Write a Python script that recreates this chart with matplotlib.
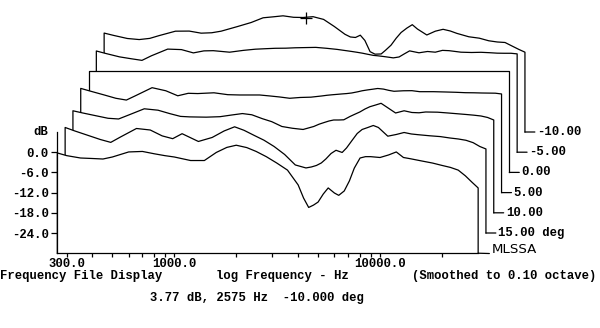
import matplotlib
matplotlib.use("Agg")
import matplotlib.pyplot as plt
import matplotlib.transforms as mtransforms

# ---------------- data ----------------
freq_hz = [270, 300, 350, 400, 450, 500, 600, 700, 800, 900,
           1000, 1200, 1400, 1600, 1800, 2000, 2250, 2500, 2800, 3150,
           3550, 4000, 4250, 4500, 4750, 5000, 5300, 5600, 6000, 6300,
           6700, 7100, 7500, 8000, 8500, 9000, 10000, 11000, 12000, 13000,
           14000, 16000, 18000, 20000, 22000, 24000, 26000, 28000, 30000]

resp_front = [-0.2, -1.0, -1.7, -1.85, -2.0, -1.4, 0.1, 0.25, -0.45, -1.0,
              -1.4, -2.45, -2.45, -0.05, 1.45, 2.1, 1.4, 0.25, -1.3, -3.2,
              -5.3, -9.7, -13.6, -16.4, -15.7, -14.8, -12.4, -10.6, -12.1, -12.8,
              -11.5, -8.5, -4.7, -1.7, -1.3, -1.3, -1.55, -0.8, 0.1, -1.55,
              -1.9, -2.6, -3.2, -3.9, -4.5, -5.3, -7.0, -8.9, -10.6]
resp_15 = [1.37, 0.36, -1.01, -2.20, -3.06, -1.51, 1.07, 0.62, -1.13, -1.96,
           -0.48, -2.79, -1.60, 0.33, 1.57, 0.53, -1.04, -2.41, -4.28, -6.65,
           -9.77, -10.66, -10.37, -9.92, -9.18, -7.99, -6.36, -5.41, -6.06, -4.72,
           -2.49, -0.42, 0.77, 1.37, 1.96, 1.37, -1.22, -0.71, -0.12, -0.56,
           -0.77, -1.10, -1.34, -1.75, -2.05, -2.44, -3.15, -4.28, -5.02]
resp_10 = [0.33, -0.30, -1.16, -1.90, -2.11, -1.01, 0.92, 0.50, -0.53, -1.34,
           -1.49, -1.57, -1.43, -0.92, -0.50, -0.86, -2.02, -2.91, -4.34, -4.87,
           -5.23, -4.34, -3.65, -3.15, -2.70, -2.41, -2.41, -2.35, -1.37, -0.77,
           -0.03, 0.86, 1.54, 2.05, 2.55, 1.54, -0.33, 0.33, -0.18, -0.27,
           -0.03, -0.09, -0.33, -0.56, -0.77, -0.98, -1.22, -1.66, -2.41]
resp_5 = [0.98, 0.18, -0.95, -1.96, -2.49, -1.16, 1.19, 0.27, -1.22, -0.48,
          -0.56, -0.33, -0.89, -0.98, -0.98, -0.98, -1.28, -1.57, -1.96, -1.72,
          -1.63, -1.28, -1.07, -0.92, -0.80, -0.68, -0.56, -0.39, -0.03, 0.27,
          0.53, 0.74, 0.95, 0.77, 0.39, 0.12, 0.27, 0.30, 0.0, 0.0,
          0.0, -0.09, -0.18, -0.30, -0.33, -0.39, -0.42, -0.45, -0.68]
resp_0 = [0.0] * 49
resp_m5 = [0.09, -0.65, -1.66, -2.23, -2.70, -1.34, 0.65, 0.50, -0.48, 0.12,
           0.18, -0.27, 0.27, 0.62, 0.77, 0.89, 0.92, 1.04, 1.10, 1.16,
           0.89, 0.56, 0.33, 0.12, -0.09, -0.30, -0.56, -0.86, -1.22, -1.34,
           -1.54, -1.75, -1.96, -1.69, -0.74, 0.12, -0.45, -0.06, -0.27, 0.27,
           0.18, -0.27, -0.36, -0.30, -0.42, -0.56, -0.59, -0.59, -0.77]
resp_m10 = [-0.59, -1.28, -2.20, -2.52, -2.17, -1.34, -0.03, 0.0, -0.62, -0.50,
            -0.03, 1.34, 2.55, 3.95, 4.25, 4.54, 4.10, 4.04, 4.28, 3.47,
            1.37, -0.95, -1.75, -1.90, -1.22, -2.79, -6.12, -6.86, -6.80, -5.70,
            -4.19, -2.11, -0.42, 0.89, 1.90, 0.62, -1.16, -0.03, 0.53, 0.03,
            -0.68, -1.69, -2.11, -2.88, -3.24, -3.39, -4.46, -5.44, -6.27]

curves = [resp_front, resp_15, resp_10, resp_5, resp_0, resp_m5, resp_m10]
curve_labels = ["MLSSA", "15.00 deg", "10.00", "5.00", "0.00", "-5.00", "-10.00"]

x_ticks = [300, 1000, 10000]
x_tick_labels = ["300.0", "1000.0", "10000.0"]
x_minor = [400, 500, 600, 700, 800, 900, 2000, 3000, 4000, 5000, 6000,
           7000, 8000, 9000, 20000]
y_ticks = [0, -6, -12, -18, -24]
y_tick_labels = ["0.0", "-6.0", "-12.0", "-18.0", "-24.0"]

cursor_freq = 2575
cursor_db = 3.77
cursor_text = "3.77 dB, 2575 Hz  -10.000 deg"

# ---------------- style ----------------
plt.rcParams['font.family'] = ['Liberation Mono', 'DejaVu Sans Mono']
FS = 8.8
W, H, DPI = 600, 328, 100
fig = plt.figure(figsize=(W / DPI, H / DPI), dpi=DPI)
ax = fig.add_axes([57 / W, 1 - 253.2 / H, (478 - 57) / W, (253.2 - 132.1) / H])
ax.set_xscale('log')
ax.set_xlim(269, 29950)
ax.set_ylim(-30, 6)
for s in ['top', 'right']:
    ax.spines[s].set_visible(False)
for s in ['left', 'bottom']:
    ax.spines[s].set_linewidth(0.9)
    ax.spines[s].set_zorder(40)

ax.set_xticks(x_ticks)
ax.set_xticklabels(x_tick_labels, fontweight='bold', fontsize=FS)
ax.set_xticks(x_minor, minor=True)
ax.set_xticklabels([], minor=True)
ax.set_yticks(y_ticks)
ax.set_yticklabels(y_tick_labels, fontweight='bold', fontsize=FS)
ax.tick_params(axis='x', which='major', direction='out', length=3.0, width=0.9, pad=0.6)
ax.tick_params(axis='x', which='minor', direction='out', length=2.6, width=0.9)
ax.tick_params(axis='y', direction='out', length=4.3, width=0.9, pad=1.8)
ax.xaxis.set_zorder(40)
ax.yaxis.set_zorder(40)

ax.annotate("dB", xy=(0, 6), xycoords=('axes fraction', 'data'), xytext=(-9, 0),
            textcoords='offset pixels', ha='right', va='center',
            fontsize=FS, fontweight='bold')

DX, DY = 7.8 / DPI, 20.2 / DPI
n = len(curves)
for k in reversed(range(n)):
    tr = ax.transData + mtransforms.ScaledTranslation(k * DX, k * DY, fig.dpi_scale_trans)
    xs = [freq_hz[0]] + freq_hz + [freq_hz[-1]]
    ys = [-30] + curves[k] + [-30]
    z = 2 + 2 * (n - 1 - k)
    ax.fill(xs, ys, facecolor='white', edgecolor='none', transform=tr,
            clip_on=False, zorder=z)
    ax.plot(xs, ys, color='black', lw=0.9, transform=tr, clip_on=False,
            zorder=z + 0.5)
    if k == 0:
        ax.annotate(curve_labels[k], xy=(freq_hz[-1], -30), xycoords=tr,
                    xytext=(14, 0), textcoords='offset pixels', ha='left',
                    va='baseline', fontsize=9.6, family='DejaVu Sans',
                    annotation_clip=False, zorder=60,
                    arrowprops=dict(arrowstyle='-', lw=0.9, color='black',
                                    shrinkA=2, shrinkB=0, patchA=None,
                                    relpos=(0, 0.2)))
    else:
        ax.annotate(curve_labels[k], xy=(freq_hz[-1], -30), xycoords=tr,
                    xytext=(12, 0), textcoords='offset pixels', ha='left',
                    va='center', fontsize=FS, fontweight='bold',
                    annotation_clip=False, zorder=60,
                    arrowprops=dict(arrowstyle='-', lw=0.9, color='black',
                                    shrinkA=1.5, shrinkB=0, patchA=None,
                                    relpos=(0, 0.5)))
    if k == n - 1:
        ax.plot([cursor_freq], [cursor_db], marker='+', ms=8, mew=0.9,
                color='black', transform=tr, clip_on=False, zorder=z + 0.6)

def ftext(x, y, s, **kw):
    fig.text(x / W, 1 - y / H, s, fontsize=FS, fontweight='bold',
             va='baseline', **kw)

ftext(0, 279, "Frequency File Display")
ftext(216, 279, "log Frequency - Hz")
ftext(412, 279, "(Smoothed to 0.10 octave)")
ftext(150, 301.5, cursor_text)

fig.savefig("out.png", dpi=DPI)
